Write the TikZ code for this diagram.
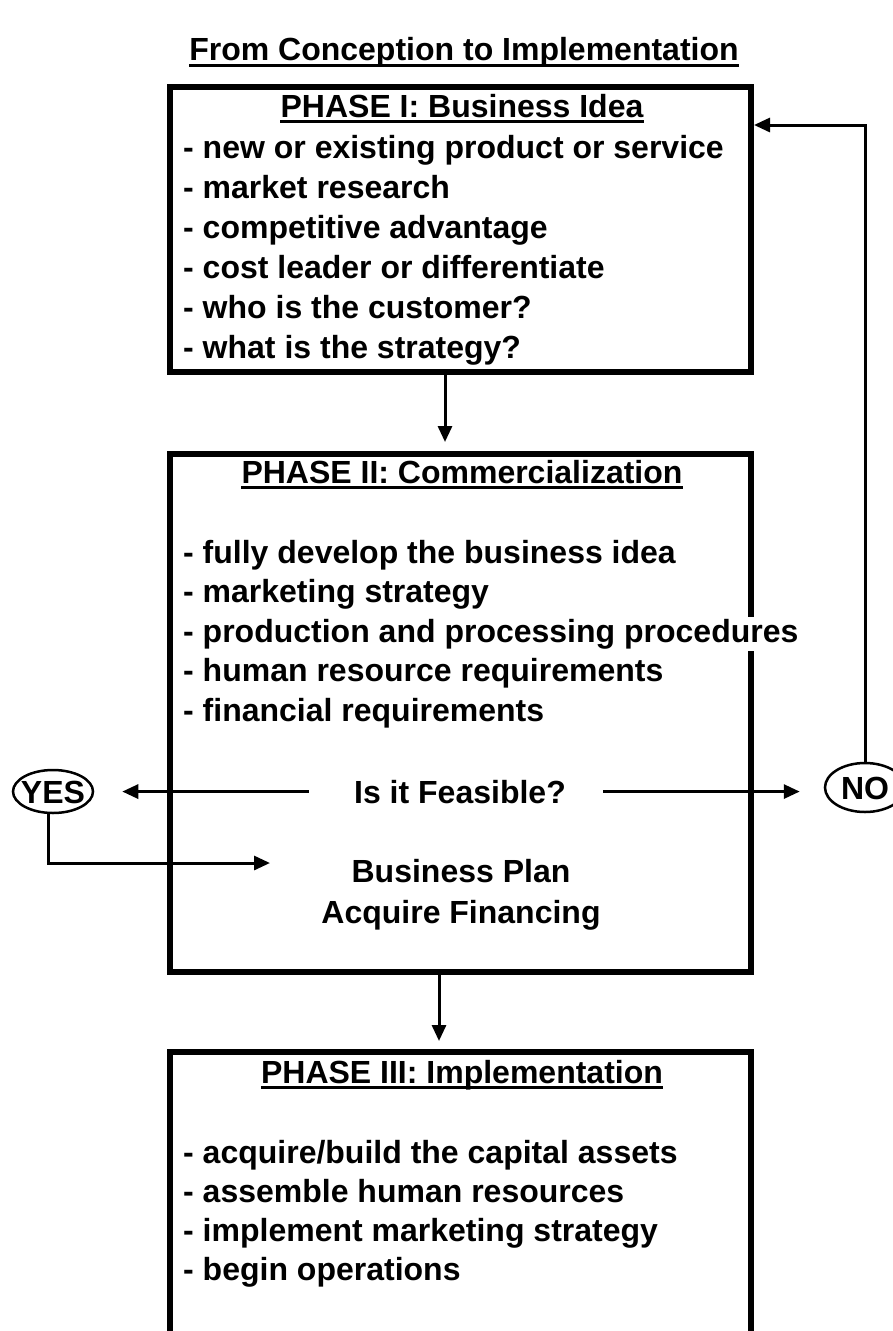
\documentclass[tikz,border=0pt]{standalone}
\usepackage{fontspec}
\setmainfont{Liberation Sans}
\usetikzlibrary{arrows.meta,shapes.geometric}

\tikzset{
  box/.style={draw,line width=6pt,inner sep=0pt,minimum width=581pt},
  item/.style={anchor=base west,fill=white,inner xsep=0pt,inner ysep=2pt},
  head/.style={anchor=base,inner sep=0pt},
  uline/.style={line width=3pt},
  arr/.style={line width=3pt,-{Triangle[length=16pt,width=14pt]}},
  answer/.style={draw,ellipse,line width=2.5pt,inner sep=0pt,text height=23pt,text depth=0pt}
}

\begin{document}
\begin{tikzpicture}[x=1pt,y=-1pt,font=\fontsize{32}{40}\selectfont\bfseries]
\useasboundingbox (0,0) rectangle (893,1331);
\clip (0,0) rectangle (893,1331);

% title
\node[head] (title) at (464,60) {From Conception to Implementation};
\draw[uline] ([yshift=-5pt]title.base west) -- ([yshift=-5pt]title.base east);

% phase I
\node[box,minimum height=285pt] (phaseI) at (460.5,229.5) {};
\node[head] (headI) at (462,117) {PHASE I: Business Idea};
\draw[uline] ([yshift=-4.5pt]headI.base west) -- ([yshift=-4.5pt]headI.base east);
\foreach \txt [count=\i] in {{- new or existing product or service},{- market research},
    {- competitive advantage},{- cost leader or differentiate},
    {- who is the customer?},{- what is the strategy?}}
  \node[item] (itemI\i) at (183,118+40*\i) {\txt};

% phase II
\node[box,minimum height=518pt] (phaseII) at (460.5,713) {};
\node[head] (headII) at (462,483) {PHASE II: Commercialization};
\draw[uline] ([yshift=-4.5pt]headII.base west) -- ([yshift=-4.5pt]headII.base east);
\foreach \txt [count=\i] in {{- fully develop the business idea},{- marketing strategy},
    {- production and processing procedures},{- human resource requirements},
    {- financial requirements}}
  \node[item] (itemII\i) at (183,524+39.4*\i) {\txt};

\node[head] (feas) at (460,803) {Is it Feasible?};
\node[head] (plan) at (461,882) {Business Plan};
\node[head] (finance) at (461,923) {Acquire Financing};

% yes / no
\node[answer,minimum width=80pt,minimum height=43pt] (yes) at (53,791.5) {\makebox[0pt]{YES}};
\node[answer,minimum width=80pt,minimum height=49pt] (no) at (865,787.5) {\makebox[0pt]{NO}};
\coordinate (planin) at (270,863);

% phase III
\node[box,minimum height=400pt] (phaseIII) at (460.5,1252) {};
\node[head] (headIII) at (462,1083) {PHASE III: Implementation};
\draw[uline] ([yshift=-4.5pt]headIII.base west) -- ([yshift=-4.5pt]headIII.base east);
\foreach \txt [count=\i] in {{- acquire/build the capital assets},{- assemble human resources},
    {- implement marketing strategy},{- begin operations}}
  \node[item] (itemIII\i) at (183,1124+39*\i) {\txt};

% arrows
\draw[arr,shorten >=9pt] ([xshift=-15.5pt]phaseI.south) -- ([xshift=-15.5pt]phaseII.north);
\draw[arr,shorten >=8pt] ([xshift=-21.5pt]phaseII.south) -- ([xshift=-21.5pt]phaseIII.north);
\draw[arr,shorten <=45pt,shorten >=28pt] (feas.west) -- (feas.west -| yes.east);
\draw[arr,shorten <=37pt,shorten >=24pt] (feas.east) -- (feas.east -| no.west);
\draw[arr] ([xshift=-5pt]yes.south) |- (planin);
\draw[arr] (no.north) |- ([yshift=-41pt]phaseI.north east);
\end{tikzpicture}
\end{document}
